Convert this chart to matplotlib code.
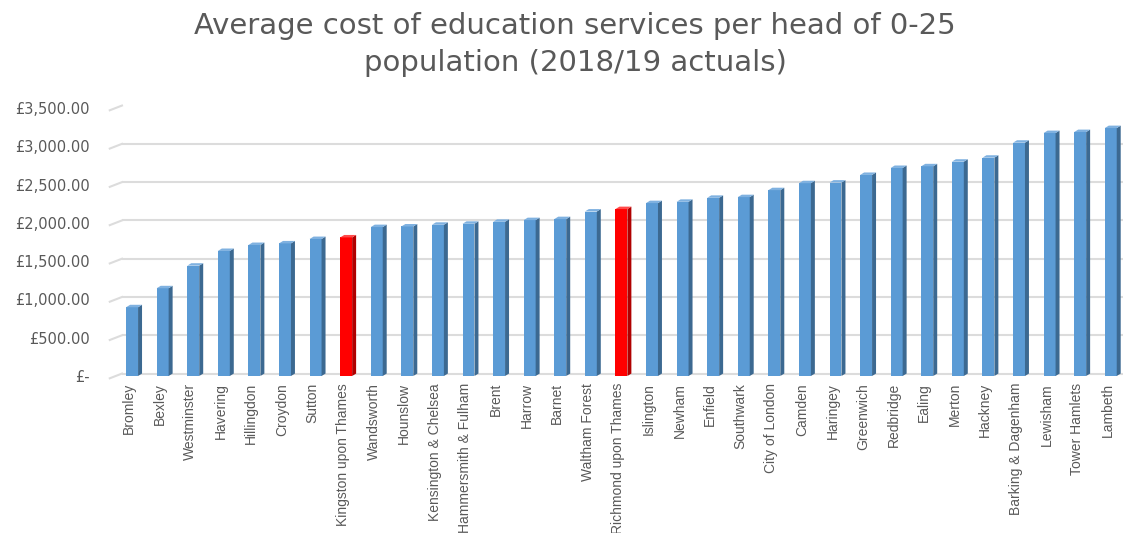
import numpy as np
import matplotlib
matplotlib.use("Agg")
import matplotlib.pyplot as plt
from matplotlib.patches import Polygon
from matplotlib.ticker import FuncFormatter

boroughs = ["Bromley", "Bexley", "Westminster", "Havering", "Hillingdon", "Croydon",
            "Sutton", "Kingston upon Thames", "Wandsworth", "Hounslow",
            "Kensington & Chelsea", "Hammersmith & Fulham", "Brent", "Harrow", "Barnet",
            "Waltham Forest", "Richmond upon Thames", "Islington", "Newham", "Enfield",
            "Southwark", "City of London", "Camden", "Haringey", "Greenwich", "Redbridge",
            "Ealing", "Merton", "Hackney", "Barking & Dagenham", "Lewisham",
            "Tower Hamlets", "Lambeth"]
cost = [898, 1146, 1441, 1633, 1711, 1732, 1789, 1810, 1945, 1953, 1975, 1988,
        2014, 2036, 2049, 2148, 2180, 2258, 2275, 2327, 2336, 2427, 2518, 2526,
        2626, 2717, 2739, 2799, 2851, 3047, 3173, 3186, 3238]
highlight = ["Kingston upon Thames", "Richmond upon Thames"]

grey = "#595959"
fig = plt.figure(figsize=(11.23, 5.33), dpi=100)
ax = fig.add_axes([122 / 1123, 157 / 533, 1 - 122 / 1123, 268 / 533])

x = np.arange(len(boroughs))
w = 0.39      # front face width
d = 0.13      # depth offset (x, data units)
dy = 32       # depth offset (y, data units)

for xi, name, v in zip(x, boroughs, cost):
    if name in highlight:
        front, side, top = "#FF0000", "#B00000", "#FF4A4A"
    else:
        front, side, top = "#5B9BD5", "#3C6991", "#7FB1E0"
    ax.bar(xi, v, width=w, color=front, edgecolor="none", zorder=3)
    l, r = xi - w / 2, xi + w / 2
    ax.add_patch(Polygon([(r, 0), (r + d, dy), (r + d, v + dy), (r, v)],
                         closed=True, color=side, lw=0, zorder=3))
    ax.add_patch(Polygon([(l, v), (l + d, v + dy), (r + d, v + dy), (r, v)],
                         closed=True, color=top, lw=0, zorder=3))

yticks = np.arange(0, 3501, 500)
for t in yticks:
    ax.axhline(t + dy, color="#DCDCDC", lw=1.5, zorder=1)
    # short slanted stub on the left wall
    ax.plot([-0.73, -0.33], [t - 30, t + dy], color="#DCDCDC", lw=1.5,
            zorder=1, clip_on=False)

ax.set_xlim(-0.33, len(boroughs) - 0.6)
ax.set_ylim(0, 3500)
ax.set_yticks(yticks)
ax.yaxis.set_major_formatter(FuncFormatter(lambda v, p: "£-" if v == 0 else f"£{v:,.2f}"))
ax.set_xticks(x - 0.1)
ax.set_xticklabels(boroughs, rotation=90, family="Liberation Sans",
                   fontsize=10, color=grey)
for lab in ax.get_yticklabels():
    lab.set_family("DejaVu Sans")
    lab.set_fontsize(10.5)
    lab.set_color(grey)
ax.tick_params(axis="y", length=0, pad=23)
ax.tick_params(axis="x", length=0, pad=5)
for s in ax.spines.values():
    s.set_visible(False)

fig.text(0.512, 0.978, "Average cost of education services per head of 0-25\npopulation (2018/19 actuals)",
         ha="center", va="top", fontsize=21, family="DejaVu Sans", color=grey, linespacing=1.4)

fig.savefig("out.png", dpi=100)
